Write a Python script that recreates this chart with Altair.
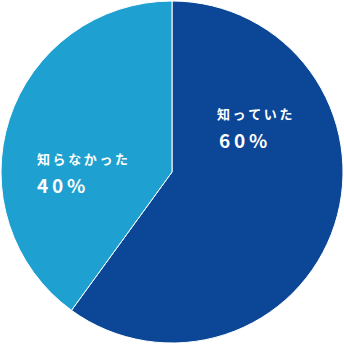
import altair as alt
import pandas as pd

categories = ["知っていた", "知らなかった"]
shares = [60, 40]
colors = ["#0b4697", "#1ea0d0"]

THIN = "\u2009"

def spaced(s):
    return THIN.join(list(s))

df = pd.DataFrame({
    "answer": categories,
    "share": shares,
    "order": [0, 1],
})

pie = alt.Chart(df).mark_arc(outerRadius=171, stroke="white", strokeWidth=1).encode(
    theta=alt.Theta("share:Q", stack=True),
    order=alt.Order("order:Q"),
    color=alt.Color("answer:N", scale=alt.Scale(domain=categories, range=colors), legend=None),
)

labels = pd.DataFrame({
    "name": [spaced(c) for c in categories],
    "pct": [spaced(f"{v}%") for v in shares],
    "lx": [217, 37],
    "ly": [115, 160],
    "px": [219, 37],
    "py": [142, 187],
})

name_text = alt.Chart(labels).mark_text(
    align="left", baseline="middle", color="white", fontSize=13, fontWeight="bold",
    font="Noto Sans CJK JP",
).encode(
    x=alt.X("lx:Q", scale=None), y=alt.Y("ly:Q", scale=None), text="name:N"
)

pct_text = alt.Chart(labels).mark_text(
    align="left", baseline="middle", color="white", fontSize=19, fontWeight="bold",
    font="Noto Sans CJK JP",
).encode(
    x=alt.X("px:Q", scale=None), y=alt.Y("py:Q", scale=None), text="pct:N"
)

chart = alt.layer(pie, name_text, pct_text).properties(
    width=344, height=344, padding=0, autosize=alt.AutoSizeParams(type="none"),
    background="white",
).configure_view(stroke=None)

chart.save("out.html", embed_options={"renderer": "svg", "actions": False})
